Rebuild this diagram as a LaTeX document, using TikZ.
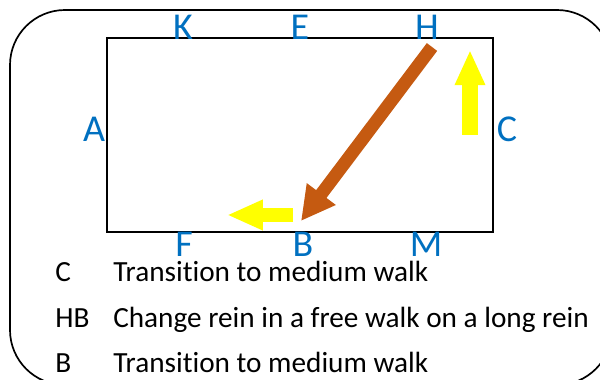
\documentclass[tikz,border=0pt]{standalone}
\usepackage{fontspec}
\setmainfont[Ligatures={NoCommon,NoContextual,NoRequired},Contextuals=NoAlternate]{Carlito}
\usetikzlibrary{arrows.meta}
\definecolor{letterblue}{HTML}{0070C0}
\definecolor{reinbrown}{HTML}{C55A11}
\definecolor{walkyellow}{HTML}{FFFF00}
\begin{document}
\begin{tikzpicture}[x=0.025cm,y=-0.025cm,
	letter/.style={letterblue,anchor=base,inner sep=0pt,font=\fontsize{27}{32}\selectfont},
	legend/.style={anchor=base west,inner sep=0pt,font=\fontsize{20.8}{25}\selectfont},
	walkarrow/.style={walkyellow,line width=10.7pt,-{Triangle[length=25pt,width=20pt]}},
	reinarrow/.style={reinbrown,line width=9.2pt,-{Triangle[length=24pt,width=24pt]}}]

		\useasboundingbox (0,0) rectangle (600,380);
		\clip (0,0) rectangle (600,380);

		% outer frame and arena
		\draw [line width=1.2pt,rounded corners=1.375cm] (10,10) rectangle (612,385);
		\draw [line width=1pt] (107,38) rectangle (493,232);

		% markers
		\node (K) at (183,40) [letter] {K};
		\node (E) at (300,40) [letter] {E};
		\node (H) at (427,40) [letter] {H};
		\node (A) at (94,142) [letter] {A};
		\node (C) at (507,142) [letter] {C};
		\node (F) at (184,257) [letter] {F};
		\node (B) at (303,257) [letter] {B};
		\node (M) at (426,257) [letter] {M};

		% movements
		\coordinate (c1) at (470,135);
		\coordinate (c2) at (470,50);
		\draw [walkarrow] (c1) -- (c2);
		\coordinate (b1) at (293,215);
		\coordinate (b2) at (227,215);
		\draw [walkarrow,line width=10.3pt,-{Triangle[length=25.5pt,width=20pt]}] (b1) -- (b2);
		\coordinate (h1) at (432,47);
		\coordinate (h2) at (301,221);
		\draw [reinarrow] (h1) -- (h2);

		% test
		\node (t1) at (55,282) [legend] {C};
		\node (d1) at (113,282) [legend] {Transit\kern0pt ion to medium walk};
		\node (t2) at (55,328) [legend] {HB};
		\node (d2) at (113,328) [legend] {Change rein in a free walk on a long rein};
		\node (t3) at (55,373) [legend] {B};
		\node (d3) at (113,373) [legend] {Transit\kern0pt ion to medium walk};

\end{tikzpicture}
\end{document}
